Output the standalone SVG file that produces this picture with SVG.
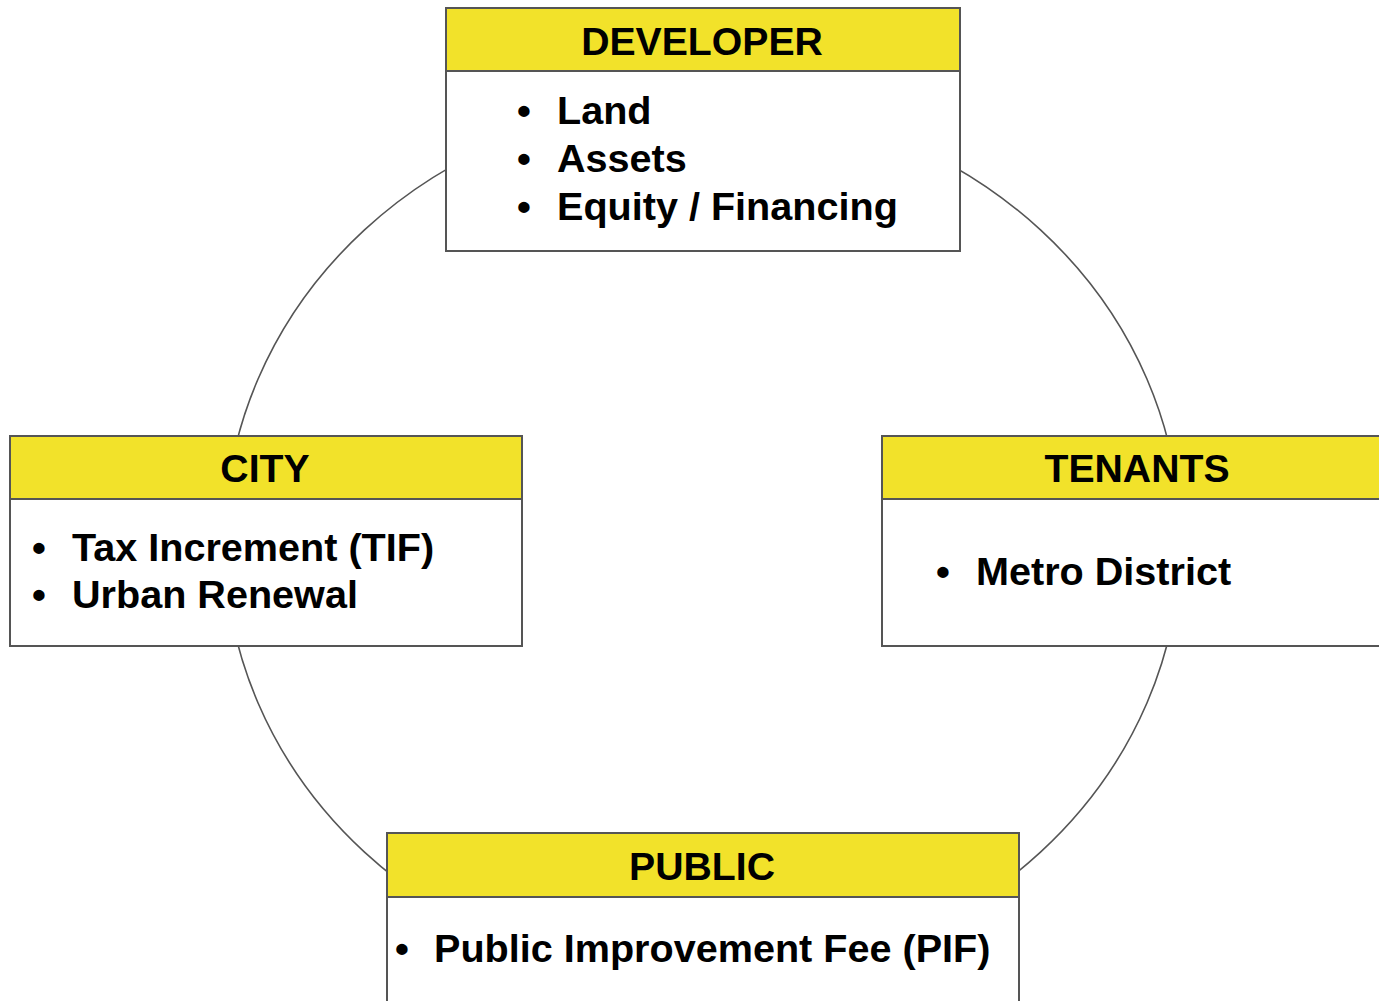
<svg xmlns="http://www.w3.org/2000/svg" width="1379" height="1001" viewBox="0 0 1379 1001">
  <style>
    .frame { fill: #ffffff; stroke: #555555; stroke-width: 2; }
    .head { fill: #f2e22a; stroke: #555555; stroke-width: 2; }
    .title { font-family: "Liberation Sans", Arial, sans-serif; font-weight: bold; font-size: 39.2px; fill: #000000; text-anchor: middle; }
    .item { font-family: "Liberation Sans", Arial, sans-serif; font-weight: bold; font-size: 39.6px; fill: #000000; }
    .ring { fill: none; stroke: #555555; stroke-width: 1.6; }
  </style>
  <rect x="0" y="0" width="1379" height="1001" fill="#ffffff"/>

  <!-- the ring joining the four parties -->
  <g id="connectors">
    <ellipse class="ring" cx="702.5" cy="541" rx="478" ry="440"/>
  </g>

  <g id="developer">
    <rect class="frame" x="446" y="8" width="514" height="243"/>
    <rect class="head" x="446" y="8" width="514" height="63"/>
    <text class="title" x="702" y="55">DEVELOPER</text>
    <text class="item" x="517" y="124">•</text>
    <text class="item" x="557" y="124">Land</text>
    <text class="item" x="517" y="172">•</text>
    <text class="item" x="557" y="172">Assets</text>
    <text class="item" x="517" y="220">•</text>
    <text class="item" x="557" y="220">Equity / Financing</text>
  </g>

  <g id="city">
    <rect class="frame" x="10" y="436" width="512" height="210"/>
    <rect class="head" x="10" y="436" width="512" height="63"/>
    <text class="title" x="265" y="482">CITY</text>
    <text class="item" x="32" y="561">•</text>
    <text class="item" x="72" y="561">Tax Increment (TIF)</text>
    <text class="item" x="32" y="608">•</text>
    <text class="item" x="72" y="608">Urban Renewal</text>
  </g>

  <g id="tenants">
    <rect class="frame" x="882" y="436" width="510" height="210"/>
    <rect class="head" x="882" y="436" width="510" height="63"/>
    <text class="title" x="1137" y="482">TENANTS</text>
    <text class="item" x="936" y="585">•</text>
    <text class="item" x="976" y="585">Metro District</text>
  </g>

  <g id="public">
    <rect class="frame" x="387" y="833" width="632" height="180"/>
    <rect class="head" x="387" y="833" width="632" height="64"/>
    <text class="title" x="702" y="880">PUBLIC</text>
    <text class="item" x="395" y="962">•</text>
    <text class="item" x="434" y="962">Public Improvement Fee (PIF)</text>
  </g>
</svg>
